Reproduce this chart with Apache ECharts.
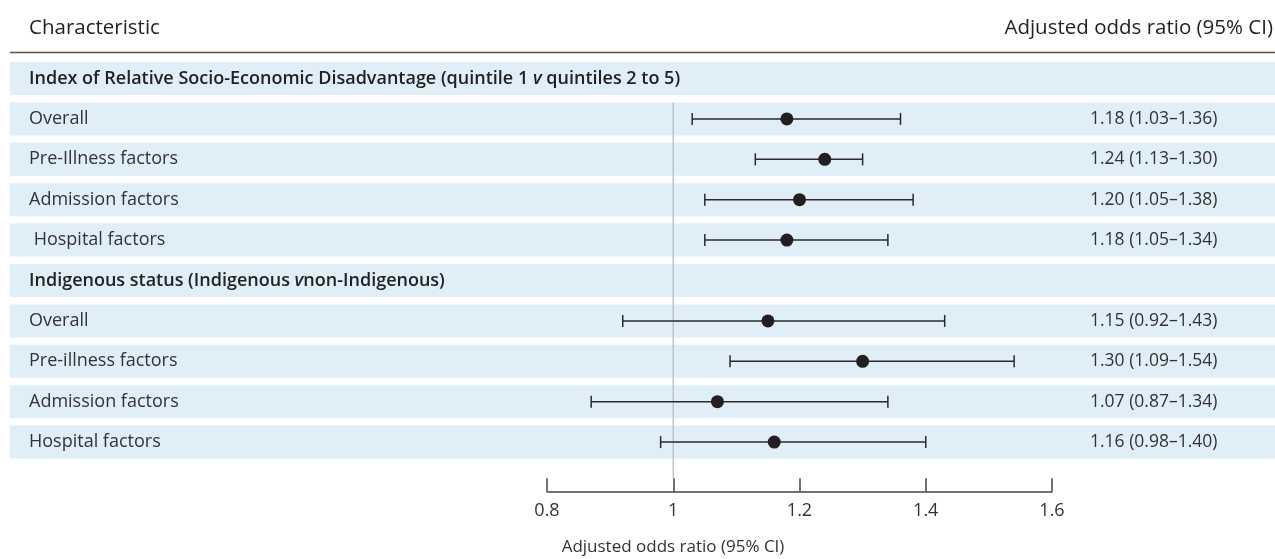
<!DOCTYPE html>
<html>
<head>
<meta charset="utf-8">
<script src="https://cdn.jsdelivr.net/npm/echarts@6/dist/echarts.min.js"></script>
<style>
html,body{margin:0;padding:0;background:#fff;}
#chart{width:1275px;height:559px;}
</style>
</head>
<body>
<div id="chart"></div>
<script>
// ---- data ----
var categories = [
  'Index of Relative Socio-Economic Disadvantage (quintile 1 v quintiles 2 to 5)',
  'Overall',
  'Pre-Illness factors',
  'Admission factors',
  ' Hospital factors',
  'Indigenous status (Indigenous v non-Indigenous)',
  'Overall',
  'Pre-illness factors',
  'Admission factors',
  'Hospital factors'
];
var isHeading = [true, false, false, false, false, true, false, false, false, false];
var oddsRatio = [null, 1.18, 1.24, 1.20, 1.18, null, 1.15, 1.30, 1.07, 1.16];
var ciLow     = [null, 1.03, 1.13, 1.05, 1.05, null, 0.92, 1.09, 0.87, 0.98];
var ciHigh    = [null, 1.36, 1.30, 1.38, 1.34, null, 1.43, 1.54, 1.34, 1.40];
var ciText    = ['', '1.18 (1.03\u20131.36)', '1.24 (1.13\u20131.30)', '1.20 (1.05\u20131.38)', '1.18 (1.05\u20131.34)',
                 '', '1.15 (0.92\u20131.43)', '1.30 (1.09\u20131.54)', '1.07 (0.87\u20131.34)', '1.16 (0.98\u20131.40)'];
var xTicks = { min: 0.8, max: 1.6, interval: 0.2 };
var referenceValue = 1;

var FONT = 'Open Sans';
var FS = 18;
var chart = echarts.init(document.getElementById('chart'), null, {renderer: 'canvas'});

var bandData = categories.map(function (c, i) { return [i]; });
var ciData = [];
var dotData = [];
for (var i = 0; i < categories.length; i++) {
  if (oddsRatio[i] != null) {
    ciData.push([ciLow[i], ciHigh[i], i]);
    dotData.push([oddsRatio[i], i]);
  }
}

function headingFmt(s) {
  var parts = s.split(' v ');
  if (parts.length === 2) {
    return '{h|' + parts[0] + ' }{hv|v}{h|' + (parts[1].indexOf('non') === 0 ? '' : ' ') + parts[1] + '}';
  }
  return '{h|' + s + '}';
}

var option = {
  animation: false,
  backgroundColor: '#ffffff',
  grid: { left: 547, right: 223, top: 58.3, height: 404, containLabel: false },
  xAxis: {
    type: 'value',
    min: xTicks.min, max: xTicks.max, interval: xTicks.interval,
    position: 'bottom',
    offset: 29,
    z: 10,
    axisLine: { show: true, lineStyle: { color: '#444', width: 1.5 } },
    axisTick: { show: true, inside: true, length: 13, lineStyle: { color: '#444', width: 1.5 } },
    splitLine: { show: false },
    axisLabel: { color: '#333', fontFamily: FONT, fontSize: FS, margin: 11 }
  },
  yAxis: [{
    type: 'category',
    data: categories,
    inverse: true,
    position: 'left',
    z: 10,
    axisLine: { show: false }, axisTick: { show: false }, splitLine: { show: false },
    axisLabel: {
      interval: 0, align: 'left', margin: 518,
      color: '#333', fontFamily: FONT, fontSize: FS,
      formatter: function (v, idx) { return isHeading[idx] ? headingFmt(v) : v; },
      rich: {
        h: { fontFamily: FONT, fontSize: FS, fontWeight: 600, color: '#222' },
        hv: { fontFamily: FONT, fontSize: FS, fontWeight: 600, fontStyle: 'italic', color: '#222' }
      }
    }
  }, {
    type: 'category',
    data: categories,
    inverse: true,
    position: 'right',
    z: 10,
    axisLine: { show: false }, axisTick: { show: false }, splitLine: { show: false },
    axisLabel: {
      interval: 0, align: 'left', margin: 38,
      color: '#333', fontFamily: FONT, fontSize: FS - 0.5,
      formatter: function (v, idx) { return ciText[idx]; }
    }
  }],
  graphic: [
    { type: 'text', x: 29, y: 28, style: { text: 'Characteristic', fontFamily: FONT, fontSize: 20.5, fill: '#222', verticalAlign: 'middle' } },
    { type: 'text', x: 1273, y: 28, style: { text: 'Adjusted odds ratio (95% CI)', fontFamily: FONT, fontSize: 20.5, fill: '#222', align: 'right', verticalAlign: 'middle' } },
    { type: 'line', shape: { x1: 10, y1: 52.5, x2: 1275, y2: 52.5 }, style: { stroke: '#555', lineWidth: 1.5 } },
    { type: 'text', x: 673, y: 547, style: { text: 'Adjusted odds ratio (95% CI)', fontFamily: FONT, fontSize: 17, fill: '#333', align: 'center', verticalAlign: 'middle' } }
  ],
  series: [
    {
      type: 'custom', name: 'bands', z: 1, clip: false, silent: true,
      data: bandData,
      encode: { y: 0 },
      renderItem: function (params, api) {
        var c = api.coord([xTicks.min, api.value(0)]);
        var h = api.size([0, 1])[1] * 0.817;
        return { type: 'rect', shape: { x: 10, y: c[1] - h / 2, width: api.getWidth() - 10, height: h },
                 style: { fill: '#e0eef8' } };
      }
    },
    {
      type: 'custom', name: 'reference', z: 2, clip: false, silent: true,
      data: [[referenceValue]],
      encode: { x: 0 },
      renderItem: function (params, api) {
        var step = api.size([0, 1])[1];
        var top = api.coord([api.value(0), 1]);
        var bot = api.coord([api.value(0), categories.length - 1]);
        var y0 = top[1] - step * 0.817 / 2;
        var y1 = bot[1] + step / 2 + 29 - 13;
        return { type: 'line', shape: { x1: top[0], y1: y0, x2: top[0], y2: y1 },
                 style: { stroke: '#bfc4c8', lineWidth: 1.5 } };
      }
    },
    {
      type: 'custom', name: 'ci', z: 3,
      data: ciData,
      encode: { x: [0, 1], y: 2 },
      renderItem: function (params, api) {
        var a = api.coord([api.value(0), api.value(2)]);
        var b = api.coord([api.value(1), api.value(2)]);
        var cap = 6;
        var st = { stroke: '#2a2a2a', lineWidth: 1.5 };
        return { type: 'group', children: [
          { type: 'line', shape: { x1: a[0], y1: a[1], x2: b[0], y2: b[1] }, style: st },
          { type: 'line', shape: { x1: a[0], y1: a[1] - cap, x2: a[0], y2: a[1] + cap }, style: st },
          { type: 'line', shape: { x1: b[0], y1: b[1] - cap, x2: b[0], y2: b[1] + cap }, style: st }
        ] };
      }
    },
    {
      type: 'scatter', name: 'OR', z: 4,
      data: dotData,
      symbol: 'circle', symbolSize: 13,
      itemStyle: { color: '#231f20', opacity: 1 }
    }
  ]
};
chart.setOption(option);
</script>
</body>
</html>
